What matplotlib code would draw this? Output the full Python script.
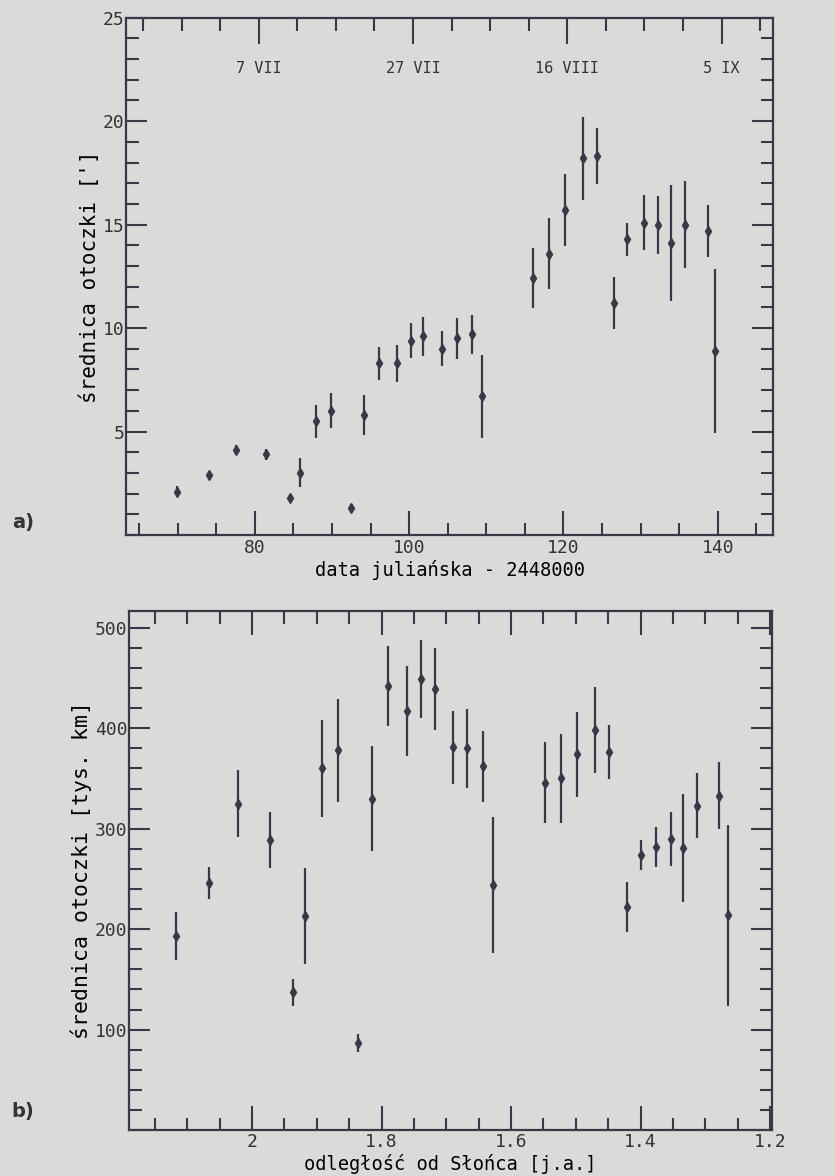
import numpy as np
import matplotlib.pyplot as plt
from matplotlib.ticker import MultipleLocator, FixedLocator, FuncFormatter

# panel a: coma diameter vs julian date
jd = [69.9, 74.0, 77.5, 81.5, 84.5, 85.8, 87.9, 89.9, 92.5, 94.1, 96.1, 98.4, 100.2, 101.8,
      104.2, 106.2, 108.2, 109.4, 116.1, 118.1, 120.2, 122.5, 124.4, 126.6, 128.3, 130.5,
      132.3, 134.0, 135.8, 138.8, 139.7]
diam = [2.1, 2.9, 4.1, 3.9, 1.8, 3.0, 5.5, 6.0, 1.3, 5.8, 8.3, 8.3, 9.4, 9.6,
        9.0, 9.5, 9.7, 6.7, 12.4, 13.6, 15.7, 18.2, 18.3, 11.2, 14.3, 15.1,
        15.0, 14.1, 15.0, 14.7, 8.9]
diam_err = [0.25, 0.2, 0.25, 0.25, 0.2, 0.7, 0.8, 0.85, 0.2, 0.95, 0.8, 0.9, 0.85, 0.95,
            0.85, 1.0, 0.95, 2.0, 1.45, 1.7, 1.75, 2.0, 1.35, 1.25, 0.8, 1.35,
            1.4, 2.8, 2.1, 1.25, 3.95]

date_ticks = [80.5, 100.5, 120.5, 140.5]
date_labels = ['7 VII', '27 VII', '16 VIII', '5 IX']

# panel b: coma diameter [10^3 km] vs heliocentric distance
dist = [2.118, 2.067, 2.022, 1.973, 1.936, 1.918, 1.892, 1.867, 1.837, 1.814, 1.790,
        1.761, 1.739, 1.718, 1.690, 1.668, 1.644, 1.628, 1.547, 1.523, 1.498, 1.470,
        1.449, 1.421, 1.399, 1.376, 1.353, 1.334, 1.312, 1.279, 1.265]
size = [193, 246, 325, 289, 137, 213, 360, 378, 87, 330, 442,
        417, 449, 439, 381, 380, 362, 244, 346, 350, 374, 398,
        376, 222, 274, 282, 290, 281, 323, 333, 214]
size_err = [24, 16, 33, 28, 13, 48, 48, 51, 9, 52, 40,
            45, 39, 41, 36, 39, 35, 68, 40, 44, 42, 43,
            27, 25, 15, 20, 27, 54, 32, 33, 90]

paper = '#dadad8'
ink = '#3a3848'
mono = 'DejaVu Sans Mono'

plt.rcParams['font.family'] = mono
plt.rcParams['axes.edgecolor'] = ink
plt.rcParams['axes.linewidth'] = 1.6
plt.rcParams['text.color'] = '#333333'
plt.rcParams['xtick.color'] = ink
plt.rcParams['ytick.color'] = ink
plt.rcParams['xtick.labelcolor'] = '#333333'
plt.rcParams['ytick.labelcolor'] = '#333333'

fig = plt.figure(figsize=(8.35, 11.76), dpi=100, facecolor=paper)

ax1 = fig.add_axes([0.151, 0.545, 0.775, 0.440], facecolor=paper)
ax2 = fig.add_axes([0.1545, 0.039, 0.770, 0.4417], facecolor=paper)

# --- a)
ax1.errorbar(jd, diam, yerr=diam_err, fmt='d', ms=5, color=ink, ecolor=ink,
             elinewidth=1.6, capsize=0)
ax1.set_xlim(63.3, 147.2)
ax1.set_ylim(0, 25)
ax1.xaxis.set_major_locator(FixedLocator([80, 100, 120, 140]))
ax1.xaxis.set_minor_locator(FixedLocator(np.arange(65, 146, 5)))
ax1.yaxis.set_major_locator(FixedLocator([5, 10, 15, 20, 25]))
ax1.yaxis.set_minor_locator(MultipleLocator(1))
ax1.tick_params(which='both', direction='in', top=False, right=True, width=1.5, labelsize=13, pad=3)
ax1.tick_params(which='major', length=17)
ax1.tick_params(which='minor', length=9)
ax1.tick_params(axis='y', which='major', length=15, pad=1)

top = ax1.secondary_xaxis('top')
top.xaxis.set_major_locator(FixedLocator(date_ticks))
top.xaxis.set_minor_locator(FixedLocator(np.arange(65.5, 146, 5)))
top.set_xticklabels(date_labels)
top.tick_params(which='both', direction='in', width=1.5, labelsize=11, pad=-42)
top.tick_params(which='major', length=19)
top.tick_params(which='minor', length=9)
top.spines['top'].set_visible(False)

ax1.set_xlabel('data juliańska - 2448000', fontsize=13.5, labelpad=2)
ax1.set_ylabel("średnica otoczki [']", fontsize=15, labelpad=2)
fig.text(0.014, 0.551, 'a)', fontsize=14, fontweight='bold', family='DejaVu Sans')

# --- b)
ax2.errorbar(dist, size, yerr=size_err, fmt='d', ms=5, color=ink, ecolor=ink,
             elinewidth=1.6, capsize=0)
ax2.set_xlim(2.19, 1.197)
ax2.set_ylim(0, 517)
ax2.xaxis.set_major_locator(FixedLocator([2.0, 1.8, 1.6, 1.4, 1.2]))
ax2.xaxis.set_minor_locator(MultipleLocator(0.05))
ax2.xaxis.set_major_formatter(FuncFormatter(lambda v, p: '%g' % round(v, 2)))
ax2.yaxis.set_major_locator(MultipleLocator(100))
ax2.yaxis.set_minor_locator(MultipleLocator(20))
ax2.yaxis.set_major_formatter(FuncFormatter(lambda v, p: '' if v == 0 else '%d' % v))
ax2.tick_params(which='both', direction='in', top=True, right=True, width=1.5, labelsize=13, pad=2)
ax2.tick_params(which='major', length=17)
ax2.tick_params(which='minor', length=9)
ax2.tick_params(axis='y', which='major', length=15, pad=1)

ax2.set_xlabel('odległość od Słońca [j.a.]', fontsize=13.5, labelpad=2)
ax2.set_ylabel('średnica otoczki [tys. km]', fontsize=15.5, labelpad=2)
fig.text(0.014, 0.050, 'b)', fontsize=14, fontweight='bold', family='DejaVu Sans')

fig.savefig('out.png', dpi=100, facecolor=paper)
